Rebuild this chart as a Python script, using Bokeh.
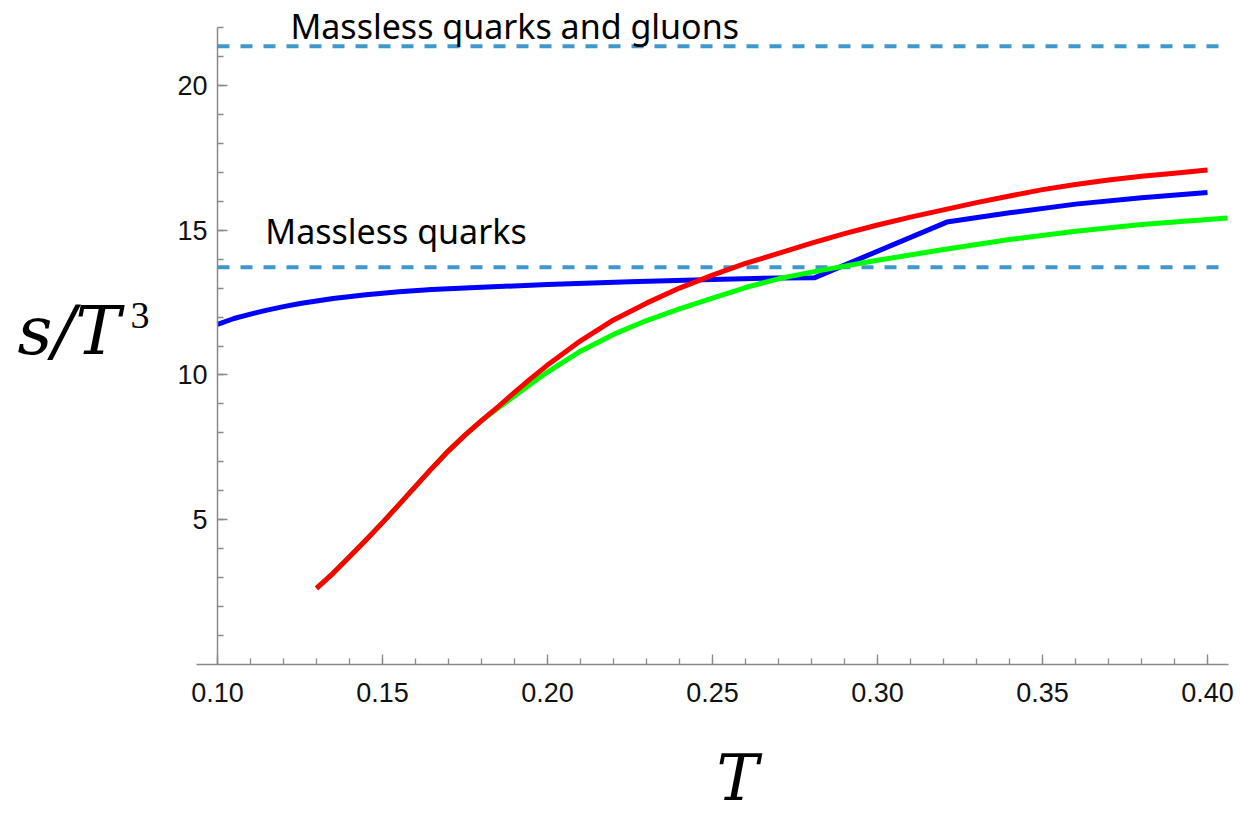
from bokeh.plotting import figure
from bokeh.models import Range1d, FixedTicker, NumeralTickFormatter, Label
from bokeh.embed import file_html
from bokeh.resources import INLINE

# ---- data ----
blue_T = [0.100, 0.105, 0.110, 0.115, 0.120, 0.125, 0.135, 0.145, 0.155, 0.165, 0.180, 0.200,
          0.225, 0.250, 0.270, 0.281, 0.321, 0.340, 0.360, 0.380, 0.400]
blue_s = [11.75, 11.95, 12.10, 12.24, 12.36, 12.47, 12.64, 12.77, 12.87, 12.95, 13.03, 13.12,
          13.22, 13.30, 13.35, 13.36, 15.28, 15.60, 15.90, 16.12, 16.30]

red_T = [0.130, 0.135, 0.140, 0.145, 0.150, 0.155, 0.160, 0.165, 0.170, 0.175, 0.180, 0.185,
         0.190, 0.195, 0.200, 0.210, 0.220, 0.230, 0.240, 0.250, 0.260, 0.270, 0.280, 0.290,
         0.300, 0.310, 0.320, 0.330, 0.340, 0.350, 0.360, 0.370, 0.380, 0.390, 0.400]
red_s = [2.63, 3.15, 3.72, 4.30, 4.90, 5.52, 6.15, 6.78, 7.38, 7.92, 8.42, 8.90,
         9.40, 9.88, 10.34, 11.18, 11.90, 12.48, 13.00, 13.45, 13.85, 14.20, 14.55, 14.88,
         15.18, 15.45, 15.70, 15.95, 16.18, 16.40, 16.58, 16.73, 16.86, 16.97, 17.08]

green_T = [0.130, 0.135, 0.140, 0.145, 0.150, 0.155, 0.160, 0.165, 0.170, 0.175, 0.180, 0.185,
           0.190, 0.195, 0.200, 0.210, 0.220, 0.230, 0.240, 0.250, 0.260, 0.270, 0.280, 0.290,
           0.300, 0.320, 0.340, 0.360, 0.380, 0.400, 0.406]
green_s = [2.63, 3.15, 3.72, 4.30, 4.90, 5.52, 6.15, 6.78, 7.38, 7.92, 8.42, 8.86,
           9.27, 9.70, 10.10, 10.82, 11.40, 11.88, 12.28, 12.65, 13.02, 13.32, 13.55, 13.76,
           13.96, 14.33, 14.68, 14.96, 15.20, 15.37, 15.42]

ref_levels = [21.35, 13.72]
ref_labels = ["Massless quarks and gluons", "Massless quarks"]
ref_T_start = 0.10
ref_T_end = 0.406

x_major = [0.10, 0.15, 0.20, 0.25, 0.30, 0.35, 0.40]
x_minor = [round(0.10 + 0.01 * i, 2) for i in range(31)]
y_major = [5, 10, 15, 20]
y_minor = list(range(1, 23))

# ---- figure: frame covers the whole canvas, axes drawn at fixed locations ----
PX_PER_T = 3300.0
PX_PER_S = 637.0 / 22.0
p = figure(width=1240, height=819, output_backend="svg", toolbar_location=None,
           x_range=Range1d(0.10 - 217 / PX_PER_T, 0.10 + (1240 - 217) / PX_PER_T),
           y_range=Range1d(-(819 - 664) / PX_PER_S, 664 / PX_PER_S),
           min_border_left=0, min_border_right=0, min_border_top=0, min_border_bottom=0)
p.outline_line_color = None
p.grid.visible = False
p.background_fill_color = "white"
p.border_fill_color = "white"

axis_col = "#8a8a8a"
for ax in (p.xaxis[0], p.yaxis[0]):
    ax.axis_line_color = axis_col
    ax.axis_line_width = 1.5
    ax.major_tick_line_color = axis_col
    ax.minor_tick_line_color = axis_col
    ax.major_tick_line_width = 1.3
    ax.minor_tick_line_width = 1.3
    ax.major_tick_in = 10
    ax.major_tick_out = 0
    ax.minor_tick_in = 6
    ax.minor_tick_out = 0
    ax.major_label_text_font = "Liberation Sans"
    ax.major_label_text_font_size = "27px"
    ax.major_label_text_color = "#111111"

p.xaxis.ticker = FixedTicker(ticks=x_major, minor_ticks=x_minor)
p.xaxis.formatter = NumeralTickFormatter(format="0.00")
p.xaxis.major_label_standoff = 18
p.xaxis.fixed_location = 0
p.xaxis.bounds = (0.0936, 0.4064)
p.yaxis.ticker = FixedTicker(ticks=y_major, minor_ticks=y_minor)
p.yaxis.formatter = NumeralTickFormatter(format="0")
p.yaxis.major_label_standoff = 10
p.yaxis.fixed_location = 0.10
p.yaxis.bounds = (0, 22)

# reference dashed lines
ref_col = "#3f97cc"
for lvl in ref_levels:
    p.segment(x0=[ref_T_start], y0=[lvl], x1=[ref_T_end], y1=[lvl], line_color=ref_col,
              line_width=4, line_dash="12 11")

# curves
p.line(blue_T, blue_s, line_color="#0000ff", line_width=5, line_join="round")
p.line(green_T, green_s, line_color="#00ff00", line_width=5, line_join="round")
p.line(red_T, red_s, line_color="#ff0000", line_width=5, line_join="round")

# annotations
p.add_layout(Label(x=0.1221, y=22.05, text=ref_labels[0], text_font="Noto Sans",
                   text_font_size="34px", text_color="black", text_baseline="alphabetic"))
p.add_layout(Label(x=0.1145, y=14.96, text=ref_labels[1], text_font="Noto Sans",
                   text_font_size="34px", text_color="black", text_baseline="alphabetic"))

# axis titles
p.add_layout(Label(x=0.0394, y=11.55, text="s/T", text_font="DejaVu Serif",
                   text_font_style="italic", text_font_size="68px", text_color="black",
                   text_baseline="alphabetic"))
p.add_layout(Label(x=0.0736, y=12.07, text="3", text_font="Liberation Serif",
                   text_font_size="38px", text_color="black", text_baseline="alphabetic"))
p.add_layout(Label(x=0.2576, y=-3.95, text="T", text_font="DejaVu Serif",
                   text_font_style="italic", text_font_size="63px", text_color="black",
                   text_baseline="alphabetic", text_align="center"))

open("out.html", "w").write(file_html(p, INLINE))
